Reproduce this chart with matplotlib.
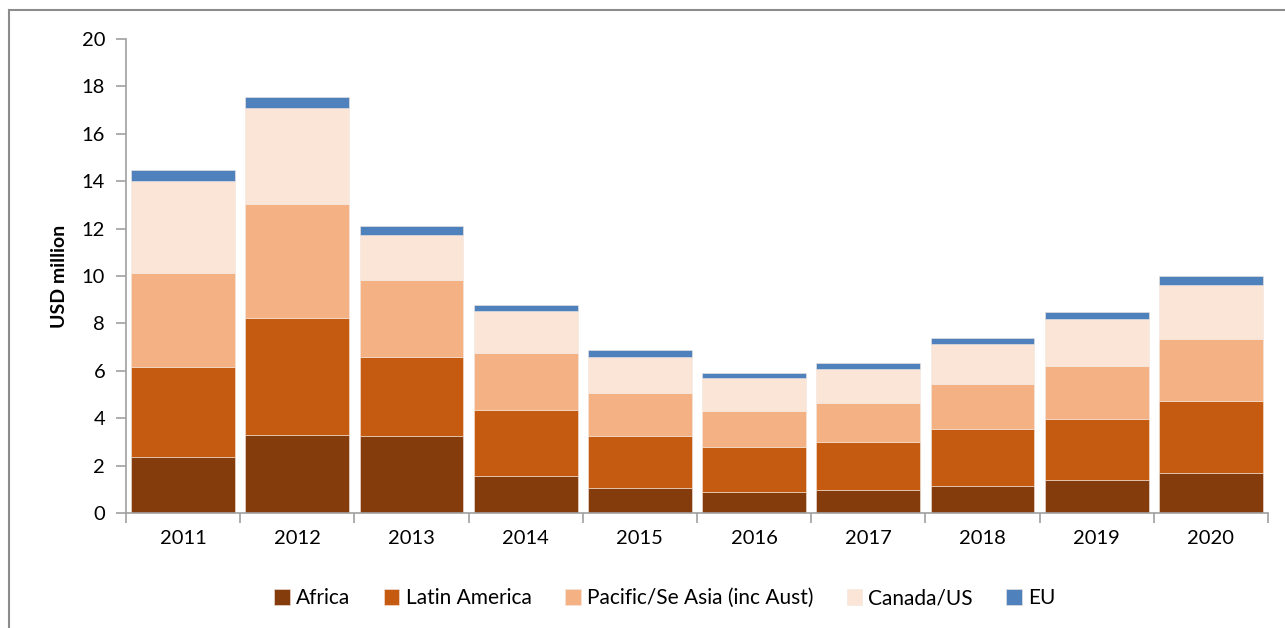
import matplotlib.pyplot as plt
import numpy as np

# Data (USD million, stacked)
years = ['2011', '2012', '2013', '2014', '2015', '2016', '2017', '2018', '2019', '2020']
africa = [2.38, 3.30, 3.25, 1.58, 1.04, 0.87, 0.97, 1.13, 1.38, 1.67]
latin_america = [3.78, 4.94, 3.35, 2.78, 2.20, 1.93, 2.04, 2.40, 2.60, 3.07]
pacific_se_asia = [3.98, 4.81, 3.23, 2.38, 1.83, 1.52, 1.64, 1.91, 2.22, 2.60]
canada_us = [3.86, 4.04, 1.90, 1.77, 1.53, 1.36, 1.43, 1.69, 1.99, 2.28]
eu = [0.47, 0.46, 0.38, 0.27, 0.28, 0.24, 0.25, 0.27, 0.29, 0.38]

series = [
    ('Africa', africa, '#843C0C'),
    ('Latin America', latin_america, '#C55A11'),
    ('Pacific/Se Asia (inc Aust)', pacific_se_asia, '#F4B183'),
    ('Canada/US', canada_us, '#FBE5D6'),
    ('EU', eu, '#4F81BD'),
]

plt.rcParams['font.family'] = ['Lato', 'DejaVu Sans']

fig = plt.figure(figsize=(12.85, 6.28), dpi=100)
ax = fig.add_axes([126 / 1285, 1 - 513 / 628, (1268 - 126) / 1285, (513 - 39) / 628])

x = np.arange(len(years))
bottom = np.zeros(len(years))
for name, vals, color in series:
    ax.bar(x, vals, 0.91, bottom=bottom, color=color, label=name,
           edgecolor='#F2E6DE', linewidth=0.4)
    bottom += np.array(vals)

ax.set_xlim(-0.5, len(years) - 0.5)
ax.set_ylim(0, 20)
ax.set_yticks(np.arange(0, 21, 2))

# Excel style: ticks at category boundaries, labels centred
ax.set_xticks(np.arange(-0.5, len(years)), minor=False)
ax.set_xticklabels([])
ax.set_xticks(x, minor=True)
ax.set_xticklabels(years, minor=True)
ax.tick_params(axis='x', which='minor', length=0, pad=12, labelsize=14.5)
ax.tick_params(axis='x', which='major', length=7, color='#A0A0A0', width=1.2)
ax.tick_params(axis='y', length=7, color='#A0A0A0', width=1.2, labelsize=14.5, pad=8)

for side in ['top', 'right']:
    ax.spines[side].set_visible(False)
for side in ['left', 'bottom']:
    ax.spines[side].set_color('#A0A0A0')
    ax.spines[side].set_linewidth(1.2)

ax.set_ylabel('USD million', fontsize=14, fontweight='bold', labelpad=10)

ax.legend(loc='center', bbox_to_anchor=(0.472, -0.18), ncol=5, frameon=False,
          fontsize=15, handlelength=0.75, handleheight=0.75, handletextpad=0.3,
          columnspacing=1.6)

# outer chart frame (left and top edges visible)
fig.add_artist(plt.Line2D([9 / 1285, 9 / 1285], [0, 1 - 10 / 628], color='#8C8C8C', lw=1.5))
fig.add_artist(plt.Line2D([9 / 1285, 1], [1 - 10 / 628, 1 - 10 / 628], color='#8C8C8C', lw=1.5))

fig.savefig('out.png', dpi=100)
